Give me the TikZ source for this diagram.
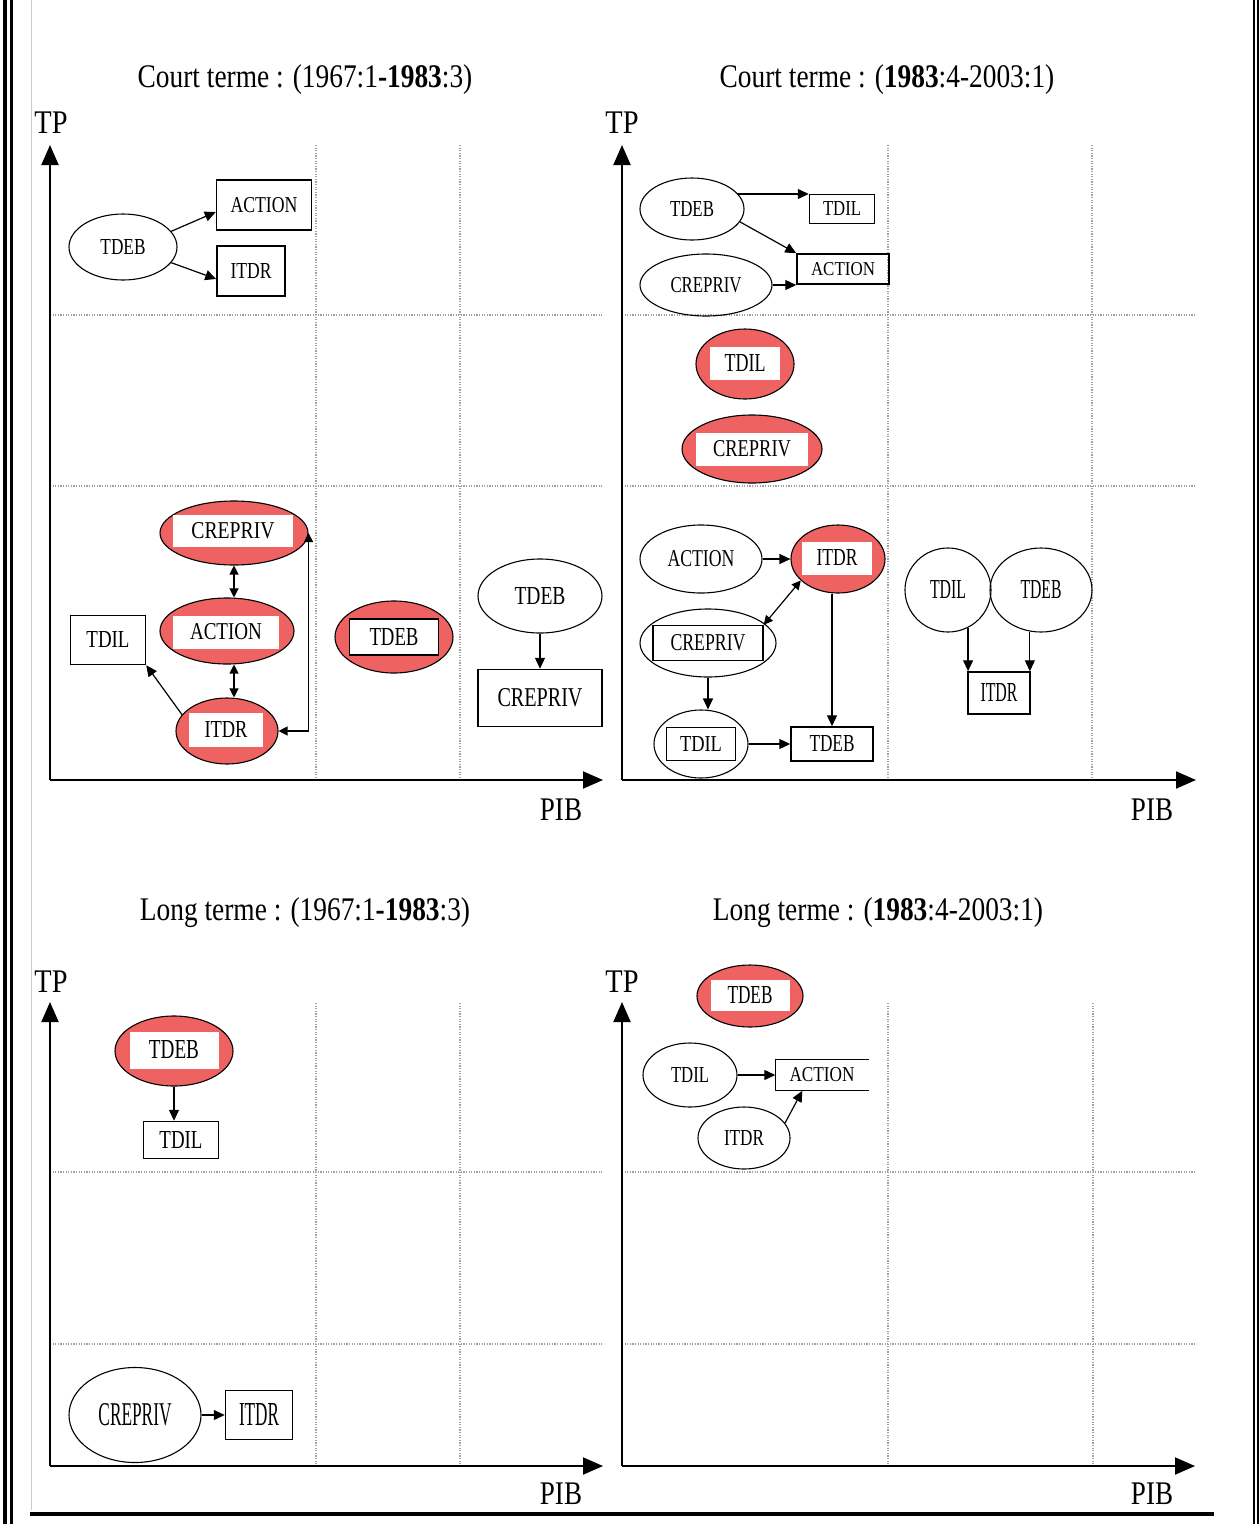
\documentclass[tikz,border=0pt]{standalone}
\usepackage{fontspec}
\setmainfont{Liberation Serif}
\usetikzlibrary{shapes.geometric,arrows.meta,calc}
\definecolor{nodered}{RGB}{238,98,98}
\newcommand{\lb}[3]{\resizebox{#1pt}{#2pt}{#3}}
\newcommand{\bigtxt}{\fontsize{33}{36}\selectfont}
\begin{document}
\begin{tikzpicture}[x=1pt,y=-1pt,
  sz/.style 2 args={minimum width=#1pt,minimum height=#2pt},
  ell/.style={ellipse,draw,line width=1.1pt,inner sep=0pt},
  redell/.style={ell,fill=nodered},
  bx/.style={rectangle,draw,line width=1.5pt,inner sep=0pt},
  inw/.style={rectangle,fill=white,inner sep=0pt},
  inwd/.style={inw,draw,line width=1.5pt},
  conn/.style={line width=1.2pt,-{Triangle[length=11pt,width=10pt]}},
  dconn/.style={line width=1.2pt,{Triangle[length=9pt,width=9pt]}-{Triangle[length=9pt,width=9pt]}},
  axis/.style={line width=2pt,-{Triangle[length=20pt,width=17pt]}},
  gridl/.style={gray!75,line width=1.2pt,dash pattern=on 1.2pt off 1.4pt},
  ttl/.style={anchor=base,inner sep=0pt,font=\bigtxt},
]
\useasboundingbox (0,0) rectangle (1259,1524);
\fill[white] (0,0) rectangle (1259,1524);

% page borders
\draw[line width=3.5pt] (5,0) -- (5,1524);
\draw[line width=2.5pt] (11.5,0) -- (11.5,1524);
\draw[gray!40,line width=1pt] (31,0) -- (31,1510);
\draw[line width=2.5pt] (1254,0) -- (1254,1524);
\draw[line width=1.5pt] (1258,0) -- (1258,1524);
\draw[line width=4.5pt] (30,1514) -- (1214,1514);

% titles
\node[ttl] (t1) at (305,87) {\scalebox{0.83}[1]{Court terme : (1967:1\textbf{-1983}:3)}};
\node[ttl] (t2) at (887,87) {\scalebox{0.83}[1]{Court terme : (\textbf{1983}:4-2003:1)}};
\node[ttl] (t3) at (305,920) {\scalebox{0.83}[1]{Long terme : (1967:1\textbf{-1983}:3)}};
\node[ttl] (t4) at (878,920) {\scalebox{0.83}[1]{Long terme : (\textbf{1983}:4-2003:1)}};

% axis labels
\node[ttl] (tp1) at (51,133) {\scalebox{0.86}[1]{TP}};
\node[ttl] (tp2) at (622,133) {\scalebox{0.86}[1]{TP}};
\node[ttl] (tp3) at (51,992) {\scalebox{0.86}[1]{TP}};
\node[ttl] (tp4) at (622,992) {\scalebox{0.86}[1]{TP}};
\node[ttl] (pib1) at (561,820) {\scalebox{0.82}[1]{PIB}};
\node[ttl] (pib2) at (1152,820) {\scalebox{0.82}[1]{PIB}};
\node[ttl] (pib3) at (561,1504) {\scalebox{0.82}[1]{PIB}};
\node[ttl] (pib4) at (1152,1504) {\scalebox{0.82}[1]{PIB}};

% grids
\draw[gridl] (316,145) -- (316,780);
\draw[gridl] (460,145) -- (460,780);
\draw[gridl] (50,315) -- (602,315);
\draw[gridl] (50,486) -- (602,486);
\draw[gridl] (888,145) -- (888,780);
\draw[gridl] (1092,145) -- (1092,780);
\draw[gridl] (622,315) -- (1195,315);
\draw[gridl] (622,486) -- (1195,486);
\draw[gridl] (316,1003) -- (316,1466);
\draw[gridl] (460,1003) -- (460,1466);
\draw[gridl] (50,1172) -- (602,1172);
\draw[gridl] (50,1344) -- (602,1344);
\draw[gridl] (888,1003) -- (888,1466);
\draw[gridl] (1093,1003) -- (1093,1466);
\draw[gridl] (622,1172) -- (1195,1172);
\draw[gridl] (622,1344) -- (1195,1344);

% axes
\coordinate (o1) at (50,780);  \coordinate (ya1) at (50,145);  \coordinate (xa1) at (603,780);
\coordinate (o2) at (622,780); \coordinate (ya2) at (622,145); \coordinate (xa2) at (1196,780);
\coordinate (o3) at (50,1466); \coordinate (ya3) at (50,1002); \coordinate (xa3) at (603,1466);
\coordinate (o4) at (622,1466);\coordinate (ya4) at (622,1002);\coordinate (xa4) at (1195,1466);
\foreach \i in {1,2,3,4}{
  \draw[axis] (o\i) -- (ya\i);
  \draw[axis] (o\i) -- (xa\i);
}

% ---------------- Panel 1 ----------------
\node[ell,sz={108}{66}] (p1tdeb) at (123,247) {\lb{45}{15}{TDEB}};
\node[bx,sz={95}{50}] (p1action) at (264,205) {\lb{67}{15}{ACTION}};
\node[bx,sz={68}{50}] (p1itdr) at (251,271) {\lb{41}{15}{ITDR}};
\draw[conn] (p1tdeb.18) -- ([yshift=-7pt]p1action.west);
\draw[conn] (p1tdeb.-18) -- ([yshift=-8pt]p1itdr.west);

\node[redell,sz={148}{64}] (p1crep) at (234,533) {};
\node[inw,sz={120}{32}] (p1crepl) at (233,531) {\lb{83}{16}{CREPRIV}};
\node[redell,sz={134}{66}] (p1act2) at (227,631) {};
\node[inw,sz={106}{33}] (p1act2l) at (226,632) {\lb{72}{16}{ACTION}};
\node[redell,sz={102}{66}] (p1itdr2) at (227,731) {};
\node[inw,sz={74}{34}] (p1itdr2l) at (226,730) {\lb{43}{16}{ITDR}};
\node[bx,sz={75}{49}] (p1tdil) at (108,640) {\lb{43}{16}{TDIL}};
\node[redell,sz={118}{72}] (p1tdeb2) at (394,637) {};
\node[inwd,sz={89}{36}] (p1tdeb2l) at (394,637) {\lb{49}{17}{TDEB}};
\node[ell,sz={124}{74}] (p1tdeb3) at (540,596) {\lb{51}{17}{TDEB}};
\node[bx,sz={124}{57}] (p1crep2) at (540,698) {\lb{85}{18}{CREPRIV}};

\draw[dconn] (p1crep.south) -- (p1crep.south |- p1act2.north);
\draw[dconn] (p1crep.south |- p1act2.south) -- (p1crep.south |- p1itdr2.north);
\draw[conn] (p1itdr2.160) -- (p1tdil.south east);
\draw[dconn] (p1itdr2.east) -| (p1crep.east);
\draw[conn] (p1tdeb3.south) -- (p1crep2.north);

% ---------------- Panel 2 ----------------
\node[ell,sz={104}{62}] (p2tdeb) at (692,209) {\lb{44}{15}{TDEB}};
\node[bx,sz={65}{29}] (p2tdil) at (842,209) {\lb{38}{14}{TDIL}};
\node[bx,sz={92}{30}] (p2action) at (843,269) {\lb{64}{13}{ACTION}};
\node[ell,sz={132}{62}] (p2crep) at (706,285) {\lb{71}{15}{CREPRIV}};
\draw[conn] (p2tdeb.18) -- (p2tdeb.18 -| p2tdil.west);
\draw[conn] (p2tdeb.-15) -- (p2action.north west);
\draw[conn] (p2crep.east) -- (p2crep.east -| p2action.west);

\node[redell,sz={98}{70}] (p2tdil2) at (745,364) {};
\node[inw,sz={70}{33}] (p2tdil2l) at (745,363) {\lb{41}{17}{TDIL}};
\node[redell,sz={140}{68}] (p2crep2) at (752,449) {};
\node[inw,sz={112}{33}] (p2crep2l) at (752,449) {\lb{78}{16}{CREPRIV}};

\node[ell,sz={122}{68}] (p2action2) at (701,559) {\lb{67}{16}{ACTION}};
\node[redell,sz={94}{68}] (p2itdr) at (838,559) {};
\node[inw,sz={70}{33}] (p2itdrl) at (837,558) {\lb{41}{16}{ITDR}};
\node[ell,sz={136}{68}] (p2crep3) at (708,643) {};
\node[inwd,sz={110}{35}] (p2crep3l) at (708,643) {\lb{75}{16}{CREPRIV}};
\node[ell,sz={94}{68}] (p2tdil3) at (701,744) {};
\node[inwd,sz={69}{33}] (p2tdil3l) at (701,744) {\lb{42}{15}{TDIL}};
\node[bx,sz={82}{34}] (p2tdeb2) at (832,744) {\lb{45}{16}{TDEB}};
\draw[conn] (p2action2.east) -- (p2itdr.west);
\draw[dconn] (p2itdr.-150) -- (p2crep3l.north east);
\draw[conn] (p2tdeb2.north |- p2itdr.south) -- (p2tdeb2.north);
\draw[conn] (p2crep3.south) -- (p2crep3.south |- p2tdil3.north);
\draw[conn] (p2tdil3.east) -- (p2tdeb2.west);

\node[ell,sz={86}{84}] (p2tdil4) at (948,590) {\lb{36}{18}{TDIL}};
\node[ell,sz={102}{84}] (p2tdeb3) at (1041,590) {\lb{41}{18}{TDEB}};
\node[bx,sz={62}{42}] (p2itdr2) at (999,693) {\lb{37}{18}{ITDR}};
\draw[conn] (p2tdil4.-62) -- (p2tdil4.-62 |- p2itdr2.north);
\draw[conn] (p2tdeb3.-105) -- (p2tdeb3.-105 |- p2itdr2.north);

% ---------------- Panel 3 ----------------
\node[redell,sz={118}{70}] (p3tdeb) at (174,1051) {};
\node[inw,sz={89}{37}] (p3tdebl) at (174,1050) {\lb{50}{18}{TDEB}};
\node[bx,sz={75}{37}] (p3tdil) at (181,1140) {\lb{43}{17}{TDIL}};
\node[ell,sz={132}{95}] (p3crep) at (135,1415) {\lb{73}{22}{CREPRIV}};
\node[bx,sz={67}{49}] (p3itdr) at (259,1415) {\lb{40}{22}{ITDR}};
\draw[conn] (p3tdeb.south) -- (p3tdeb.south |- p3tdil.north);
\draw[conn] (p3crep.east) -- (p3itdr.west);

% ---------------- Panel 4 ----------------
\node[redell,sz={106}{62}] (p4tdeb) at (750,996) {};
\node[inw,sz={79}{31}] (p4tdebl) at (750,995) {\lb{45}{17}{TDEB}};
\node[ell,sz={94}{64}] (p4tdil) at (690,1075) {\lb{38}{15}{TDIL}};
\node[inner sep=0pt,sz={93}{31}] (p4action) at (822,1075) {\lb{65}{14}{ACTION}};
\draw[line width=1.5pt] (p4action.north east) -- (p4action.north west) -- (p4action.south west) -- (p4action.south east);
\node[ell,sz={92}{62}] (p4itdr) at (744,1138) {\lb{40}{15}{ITDR}};
\draw[conn] (p4tdil.east) -- (p4action.west);
\draw[conn] (p4itdr.20) -- ([xshift=27pt]p4action.south west);
\end{tikzpicture}
\end{document}
